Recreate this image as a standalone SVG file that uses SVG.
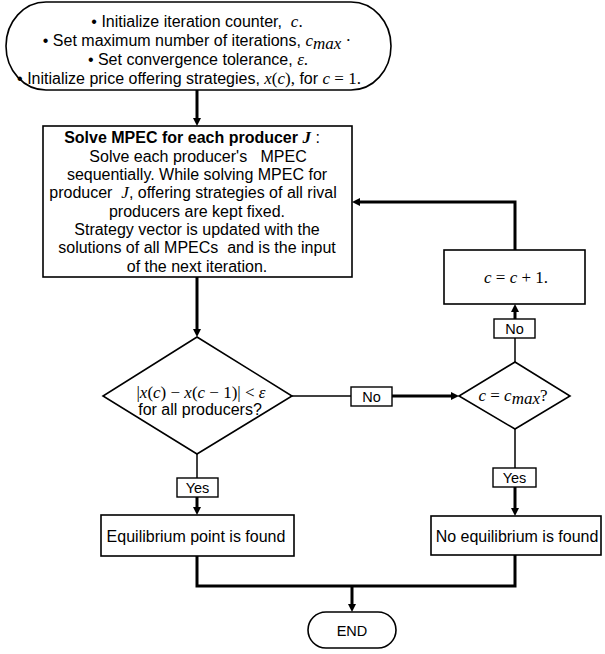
<svg xmlns="http://www.w3.org/2000/svg" width="605" height="654" viewBox="0 0 605 654">
<style>
  .box { fill: #fff; stroke: #000; stroke-width: 1.6; }
  .lbl { fill: #fff; stroke: #000; stroke-width: 1.4; }
  .t { font-family: "Liberation Sans", Arial, sans-serif; font-size: 16px; fill: #000; text-anchor: middle; white-space: pre; }
  .s { font-family: "Liberation Sans", Arial, sans-serif; font-size: 14.5px; fill: #000; text-anchor: middle; }
  .m { font-family: "Liberation Serif", "Times New Roman", serif; font-style: italic; font-size: 17px; }
  .mu { font-family: "Liberation Serif", "Times New Roman", serif; font-style: normal; font-size: 17px; }
  .thick { fill: none; stroke: #000; stroke-width: 3; }
  .thin { fill: none; stroke: #000; stroke-width: 1.5; }
</style>
<defs>
  <marker id="ah" viewBox="0 0 8 8" markerWidth="8" markerHeight="8" refX="3" refY="4" orient="auto" markerUnits="userSpaceOnUse">
    <path d="M0,0 L8,4 L0,8 z" fill="#000"/>
  </marker>
</defs>

<g id="connectors">
  <path class="thick" d="M197,90 V121" marker-end="url(#ah)"/>
  <path class="thick" d="M197,277 V332" marker-end="url(#ah)"/>
  <path class="thin" d="M292,396 H351"/>
  <path class="thick" d="M392,396 H454" marker-end="url(#ah)"/>
  <path class="thin" d="M515,362 V338"/>
  <path class="thick" d="M515,319 V309" marker-end="url(#ah)"/>
  <path class="thick" d="M515,250 V202 H357" marker-end="url(#ah)"/>
  <path class="thin" d="M197,454 V478"/>
  <path class="thick" d="M197,497 V510" marker-end="url(#ah)"/>
  <path class="thin" d="M515,429 V468"/>
  <path class="thick" d="M515,487 V511" marker-end="url(#ah)"/>
  <path class="thick" d="M197,556 V586 H515 V555"/>
  <path class="thick" d="M352,586 V607" marker-end="url(#ah)"/>
</g>

<g id="start">
  <rect class="box" x="6" y="2" width="385" height="88" rx="40" ry="44"/>
  <text class="t" x="197" y="27">• Initialize iteration counter,  <tspan class="m">c</tspan><tspan class="mu">.</tspan></text>
  <text class="t" x="197" y="46">• Set maximum number of iterations, <tspan class="m">c</tspan><tspan class="m" font-size="13" dy="3">max</tspan><tspan class="mu" dy="-3"> ·</tspan></text>
  <text class="t" x="198" y="65">• Set convergence tolerance, <tspan class="m">ε</tspan><tspan class="mu">.</tspan></text>
  <text class="t" x="189" y="84">• Initialize price offering strategies, <tspan class="m">x</tspan><tspan class="mu">(</tspan><tspan class="m">c</tspan><tspan class="mu">),</tspan> for <tspan class="m">c</tspan><tspan class="mu"> = 1.</tspan></text>
</g>

<g id="mpec">
  <rect class="box" x="43" y="126" width="309" height="151"/>
  <text class="t" x="192" y="143"><tspan font-weight="bold">Solve MPEC for each producer </tspan><tspan class="m" font-weight="bold">J</tspan> :</text>
  <text class="t" x="198" y="162">Solve each producer's   MPEC</text>
  <text class="t" x="197" y="180">sequentially. While solving MPEC for</text>
  <text class="t" x="193" y="198">producer  <tspan class="m">J</tspan>, offering strategies of all rival</text>
  <text class="t" x="197" y="217">producers are kept fixed.</text>
  <text class="t" x="197" y="235">Strategy vector is updated with the</text>
  <text class="t" x="197" y="253">solutions of all MPECs  and is the input</text>
  <text class="t" x="197" y="272">of the next iteration.</text>
</g>

<g id="converge">
  <polygon class="box" points="197,337 292,396 197,454 103,396"/>
  <text class="t" x="201" y="398"><tspan class="mu">|</tspan><tspan class="m">x</tspan><tspan class="mu">(</tspan><tspan class="m">c</tspan><tspan class="mu">) − </tspan><tspan class="m">x</tspan><tspan class="mu">(</tspan><tspan class="m">c</tspan><tspan class="mu"> − 1)| &lt; </tspan><tspan class="m">ε</tspan></text>
  <text class="t" x="200" y="415">for all producers?</text>
</g>

<g id="maxcheck">
  <polygon class="box" points="515,362 570,396 515,429 459,396"/>
  <text class="t" x="513" y="401"><tspan class="m">c</tspan><tspan class="mu"> = </tspan><tspan class="m">c</tspan><tspan class="m" font-size="13" dy="3">max</tspan><tspan class="mu" dy="-3">?</tspan></text>
</g>

<g id="increment">
  <rect class="box" x="444" y="250" width="141" height="54"/>
  <text class="t" x="516" y="283"><tspan class="m">c</tspan><tspan class="mu"> = </tspan><tspan class="m">c</tspan><tspan class="mu"> + 1.</tspan></text>
</g>

<g id="label-no1">
  <rect class="lbl" x="351" y="387" width="41" height="19"/>
  <text class="s" x="371.5" y="402">No</text>
</g>
<g id="label-no2">
  <rect class="lbl" x="494" y="319" width="41" height="19"/>
  <text class="s" x="514.5" y="334">No</text>
</g>
<g id="label-yes1">
  <rect class="lbl" x="177" y="478" width="41" height="19"/>
  <text class="s" x="197.5" y="493">Yes</text>
</g>
<g id="label-yes2">
  <rect class="lbl" x="493" y="468" width="43" height="19"/>
  <text class="s" x="514.5" y="483">Yes</text>
</g>

<g id="equilibrium">
  <rect class="box" x="101" y="515" width="193" height="41"/>
  <text class="t" x="196" y="542">Equilibrium point is found</text>
</g>
<g id="no-equilibrium">
  <rect class="box" x="431" y="516" width="170" height="39"/>
  <text class="t" x="517" y="542">No equilibrium is found</text>
</g>

<g id="end">
  <rect class="box" x="308" y="612" width="88" height="36" rx="18" ry="18"/>
  <text class="s" x="352" y="636">END</text>
</g>
</svg>
